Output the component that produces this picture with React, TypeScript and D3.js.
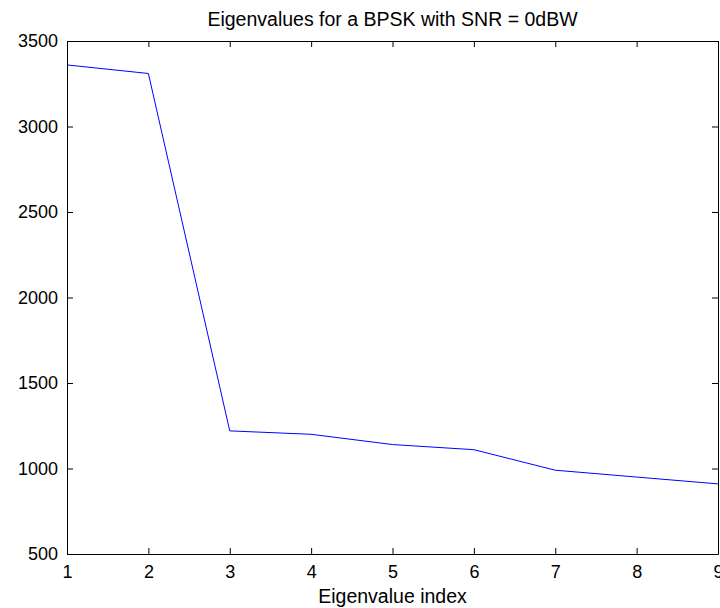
import React, { useEffect, useRef } from "react";
import * as d3 from "d3";

const indices = [1, 2, 3, 4, 5, 6, 7, 8, 9];
const eigenvalues = [3360, 3310, 1220, 1200, 1140, 1110, 990, 950, 910];
const yTicks = [500, 1000, 1500, 2000, 2500, 3000, 3500];

const App = () => {
  const ref = useRef<SVGSVGElement>(null);

  useEffect(() => {
    const svg = d3.select(ref.current);
    svg.selectAll("*").remove();

    const width = 720;
    const height = 608;
    const margin = { top: 41, right: 2, bottom: 54, left: 67 };
    const font = "'Liberation Sans', Arial, sans-serif";

    const x = d3.scaleLinear()
      .domain([1, 9])
      .range([margin.left, width - margin.right]);

    const y = d3.scaleLinear()
      .domain([500, 3500])
      .range([height - margin.bottom, margin.top]);

    svg.append("rect")
      .attr("width", width)
      .attr("height", height)
      .attr("fill", "#fff");

    const line = d3.line<number>()
      .x((d, i) => x(indices[i]))
      .y(d => y(d));

    svg.append("path")
      .datum(eigenvalues)
      .attr("fill", "none")
      .attr("stroke", "#0000ff")
      .attr("stroke-width", 1)
      .attr("d", line);

    const tickLen = 6;

    const bottom = svg.append("g")
      .attr("transform", `translate(0,${height - margin.bottom})`)
      .call(d3.axisBottom(x).tickValues(indices).tickSizeInner(-tickLen).tickSizeOuter(0).tickPadding(11).tickFormat(d3.format("d")));

    const left = svg.append("g")
      .attr("transform", `translate(${margin.left},0)`)
      .call(d3.axisLeft(y).tickValues(yTicks).tickSizeInner(-tickLen).tickSizeOuter(0).tickPadding(9).tickFormat(d3.format("d")));

    const top = svg.append("g")
      .attr("transform", `translate(0,${margin.top})`)
      .call(d3.axisTop(x).tickValues(indices).tickSizeInner(-tickLen).tickSizeOuter(0).tickFormat(() => ""));

    const right = svg.append("g")
      .attr("transform", `translate(${width - margin.right},0)`)
      .call(d3.axisRight(y).tickValues(yTicks).tickSizeInner(-tickLen).tickSizeOuter(0).tickFormat(() => ""));

    [bottom, left, top, right].forEach(g => {
      g.selectAll("path").attr("stroke", "#000").attr("stroke-width", 1);
      g.selectAll("line").attr("stroke", "#000").attr("stroke-width", 1);
      g.selectAll("text")
        .attr("fill", "#000")
        .style("font-family", font)
        .style("font-size", "18px");
    });

    svg.append("text")
      .attr("x", (margin.left + width - margin.right) / 2)
      .attr("y", 26)
      .attr("text-anchor", "middle")
      .style("font-family", font)
      .style("font-size", "19.5px")
      .text("Eigenvalues for a BPSK with SNR = 0dBW");

    svg.append("text")
      .attr("x", (margin.left + width - margin.right) / 2)
      .attr("y", 603)
      .attr("text-anchor", "middle")
      .style("font-family", font)
      .style("font-size", "19.5px")
      .text("Eigenvalue index");
  }, []);

  return (
    <svg
      ref={ref}
      width={720}
      height={608}
      style={{ position: "absolute", left: 0, top: 0 }}
    ></svg>
  );
};

export default App;
